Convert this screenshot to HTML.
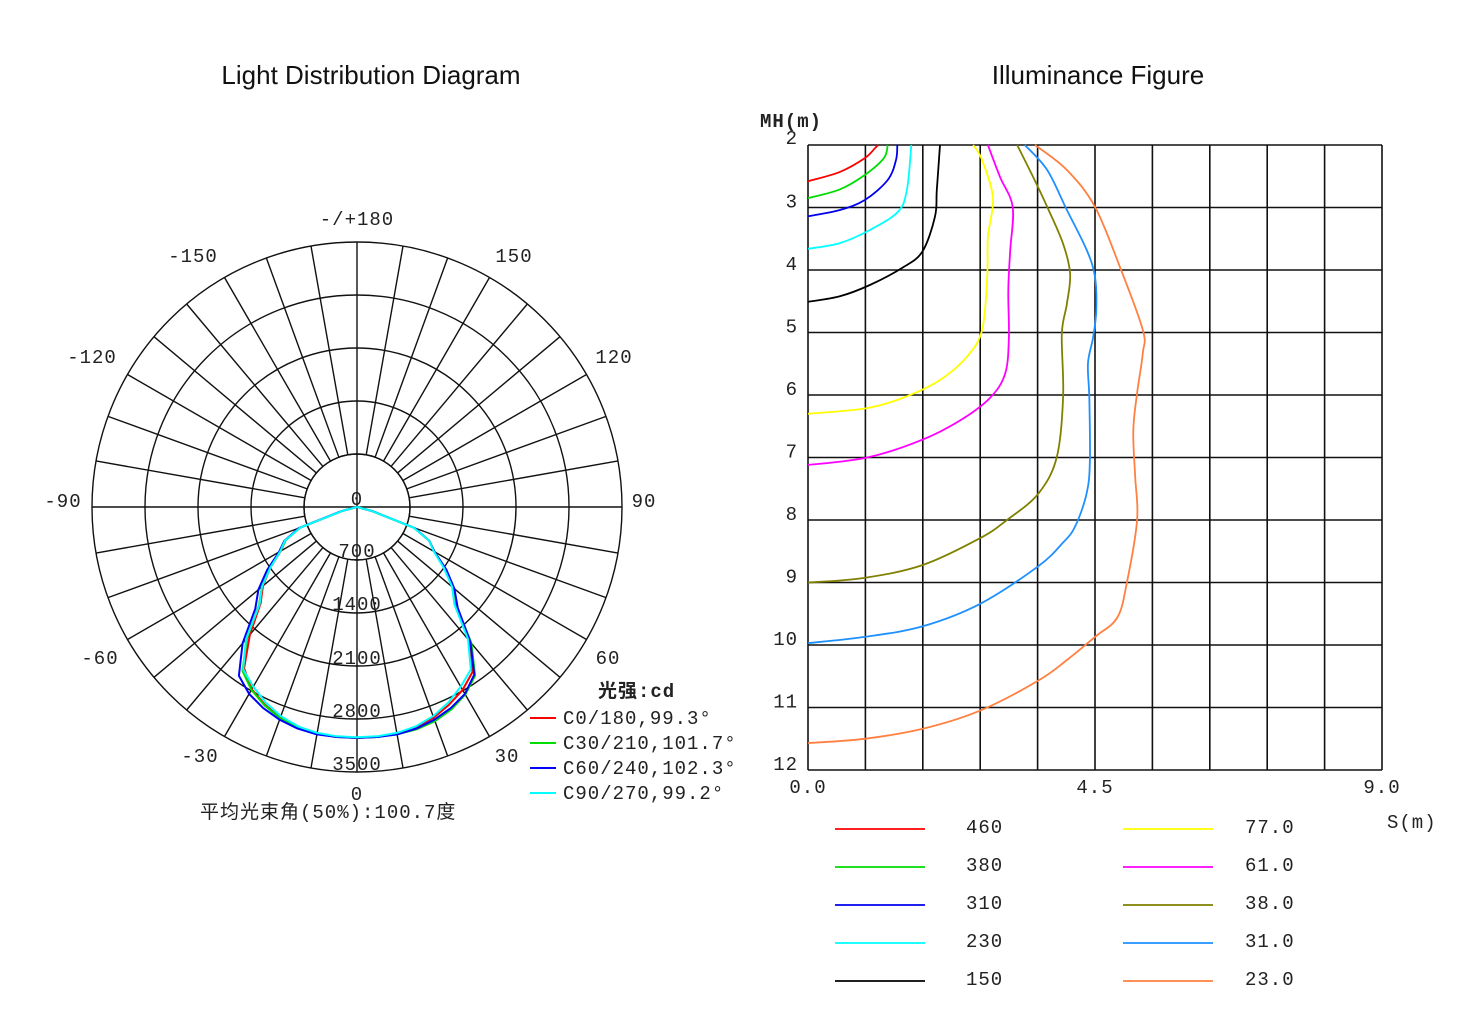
<!DOCTYPE html>
<html><head><meta charset="utf-8"><style>
body{margin:0;background:#fff;width:1475px;height:1011px;overflow:hidden}
svg{display:block}
.t{font-family:"Liberation Sans","Noto Sans CJK SC",sans-serif;font-size:26px;fill:#111}
.m{font-family:"Liberation Mono","Noto Sans CJK SC",monospace;font-size:19px;fill:#222;letter-spacing:1px}
</style></head><body>
<svg id="svg" width="1475" height="1011" viewBox="0 0 1475 1011">
<text class="t" x="371" y="84" text-anchor="middle">Light Distribution Diagram</text>
<text class="t" x="1098" y="84" text-anchor="middle">Illuminance Figure</text>
<g id="polar"></g>
<g id="iso"></g>
</svg>
<script>
// ---------- Polar data ----------
const polarAngles=[-90,-85,-80,-75,-70,-65,-60,-55,-50,-45,-40,-35,-30,-25,-20,-15,-10,-5,0,5,10,15,20,25,30,35,40,45,50,55,60,65,70,75,80,85,90];
const ringValues=[700,1400,2100,2800,3500];
const angleLabels=["-/+180","150","120","90","60","30","0","-30","-60","-90","-120","-150"];
const c0Vals=[0,0,0,200,800,1040,1160,1400,1620,1800,2200,2600,2780,2880,2960,3010,3040,3050,3050,3050,3040,3010,2960,2880,2790,2660,2300,1850,1660,1420,1180,1050,800,200,0,0,0];
const c30Vals=[0,0,0,200,800,1040,1170,1410,1640,1830,2260,2640,2790,2890,2970,3010,3040,3050,3050,3050,3050,3040,3010,2950,2860,2720,2350,1870,1670,1430,1180,1050,800,200,0,0,0];
const c60Vals=[0,0,0,220,820,1060,1190,1450,1700,1900,2350,2720,2850,2930,2990,3030,3050,3050,3050,3050,3050,3030,2990,2930,2850,2700,2330,1880,1680,1440,1180,1050,810,210,0,0,0];
const c90Vals=[0,0,0,200,800,1050,1170,1400,1640,1820,2280,2620,2740,2850,2940,3000,3030,3040,3040,3040,3030,3000,2940,2850,2740,2620,2280,1820,1640,1400,1170,1050,800,200,0,0,0];
const seriesNames=["C0/180,99.3°","C30/210,101.7°","C60/240,102.3°","C90/270,99.2°"];
const seriesColors=["#ff0000","#00dd00","#0000ff","#00ffff"];

// ---------- Illuminance data ----------
const isoLevels=["460","380","310","230","150","77.0","61.0","38.0","31.0","23.0"];
const isoColors=["#ff0000","#00dd00","#0000ee","#00ffff","#000000","#ffff00","#ff00ff","#808000","#1e90ff","#ff8040"];
const s460=[0,0.50,0.89,1.05,1.10]; const h460=[2.58,2.43,2.21,2.05,2.0];
const s380=[0,0.50,0.89,1.19,1.25]; const h380=[2.85,2.71,2.48,2.21,2.0];
const s310=[0,0.50,0.89,1.25,1.38,1.40]; const h310=[3.14,3.04,2.88,2.56,2.24,2.0];
const s230=[0,0.50,0.97,1.41,1.55,1.62]; const h230=[3.66,3.57,3.36,3.07,2.72,2.0];
const s150=[0,0.5,0.97,1.47,1.79,1.99,2.02,2.07]; const h150=[4.51,4.42,4.24,3.97,3.71,3.15,2.72,2.0];
const s77=[0,0.93,1.55,2.07,2.49,2.73,2.81,2.82,2.90,2.73,2.59]; const h77=[6.30,6.21,6.02,5.76,5.39,4.96,4.11,3.47,2.85,2.24,2.0];
const s61=[0,0.93,1.76,2.38,2.85,3.09,3.15,3.14,3.17,3.21,3.01,2.82]; const h61=[7.12,7.0,6.73,6.41,6.05,5.66,5.08,4.33,3.69,2.99,2.51,2.0];
const s38=[0,0.86,1.80,2.70,3.12,3.61,3.90,4.00,3.98,4.06,4.11,4.00,3.75,3.53,3.28]; const h38=[9.0,8.93,8.72,8.29,8.0,7.58,7.0,6.03,5.02,4.54,4.06,3.58,2.99,2.51,2.0];
const s31=[0,0.89,1.80,2.70,3.61,4.00,4.19,4.37,4.42,4.41,4.39,4.47,4.52,4.50,4.37,4.06,3.75,3.40]; const h31=[9.97,9.87,9.70,9.34,8.74,8.36,8.1,7.57,7.04,6.03,5.49,5.08,4.64,4.11,3.68,3.04,2.4,2.0];
const s23=[0,0.89,1.80,2.70,3.61,4.06,4.50,4.85,5.00,5.16,5.13,5.10,5.16,5.25,5.25,4.89,4.50,4.06,3.56]; const h23=[11.57,11.50,11.34,11.05,10.57,10.24,9.87,9.56,9.0,8.0,7.31,6.57,5.97,5.33,4.96,3.95,2.99,2.4,2.0];
const xTicks=["0.0","4.5","9.0"];
const yTicks=[2,3,4,5,6,7,8,9,10,11,12];

const NS="http://www.w3.org/2000/svg";
function mk(tag,attrs,parent){const e=document.createElementNS(NS,tag);for(const k in attrs)e.setAttribute(k,attrs[k]);parent.appendChild(e);return e;}

// ---------- Polar chart ----------
const P=document.getElementById('polar');
const cx=357,cy=507,R=265,vMax=3500,rIn=53;
const rs=v=>v/vMax*R;
const pt=(a,v)=>[cx+rs(v)*Math.sin(a*Math.PI/180),cy+rs(v)*Math.cos(a*Math.PI/180)];
for(let a=0;a<360;a+=10){
  const full=(a%90===0);
  const r0=full?0:rIn;
  const ln=mk('line',{x1:cx+r0*Math.sin(a*Math.PI/180),y1:cy+r0*Math.cos(a*Math.PI/180),x2:cx+R*Math.sin(a*Math.PI/180),y2:cy+R*Math.cos(a*Math.PI/180),stroke:'#111','stroke-width':1.4},P);
  
  
}
[rIn].concat(ringValues.map(rs)).forEach(r=>{
  const c=mk('circle',{cx:cx,cy:cy,r:r,fill:'none',stroke:'#111','stroke-width':1.4},P);
  
  
});
[c0Vals,c30Vals,c60Vals,c90Vals].forEach((vals,i)=>{
  const d=vals.map((v,j)=>{const p=pt(polarAngles[j],v);return (j?'L':'M')+p[0].toFixed(1)+' '+p[1].toFixed(1);}).join(' ');
  const pa=mk('path',{d:d,fill:'none',stroke:seriesColors[i],'stroke-width':2,'stroke-linejoin':'round'},P);
  
  
});
const rlab=[0].concat(ringValues);
rlab.forEach(v=>{
  const t=mk('text',{x:cx,y:0,'text-anchor':'middle',class:'m'},P);
  t.setAttribute('y', v===0?505:(cy+rs(v)*0.975-3+(v/700)*1.5).toFixed(0));
  t.textContent=v;
  
  
});
const angleLabelPos=[[357,225],[514,262],[614,363],[644,507],[608,664],[507,762],[357,800],[200,762],[100,664],[63,507],[92,363],[193,262]];
angleLabels.forEach((s,i)=>{
  const t=mk('text',{x:angleLabelPos[i][0],y:angleLabelPos[i][1],'text-anchor':'middle',class:'m'},P);
  t.textContent=s;
  
  
});
const lt=mk('text',{x:598,y:697,class:'m','font-weight':'bold'},P);
lt.textContent='光强:cd';


seriesNames.forEach((s,i)=>{
  const y=718+i*25;
  const l=mk('line',{x1:530,y1:y,x2:556,y2:y,stroke:seriesColors[i],'stroke-width':2},P);
  
  
  const t=mk('text',{x:563,y:y+6,class:'m','font-size':'16'},P);
  t.textContent=s;
  
  
});
const bt=mk('text',{x:200,y:818,class:'m'},P);
bt.textContent='平均光束角(50%):100.7度';



// ---------- Illuminance chart ----------
const I=document.getElementById('iso');
const X0=808,X1=1382,Y0=145,Y1=770,sMax=9,hMin=2,hMax=12;
const xs=s=>X0+s/sMax*(X1-X0);
const ys=h=>Y0+(h-hMin)/(hMax-hMin)*(Y1-Y0);
for(let k=0;k<=10;k++){
  const x=xs(k*0.9);
  const l=mk('line',{x1:x,y1:Y0,x2:x,y2:Y1,stroke:'#111','stroke-width':1.6},I);
  
  
}
yTicks.forEach(h=>{
  const l=mk('line',{x1:X0,y1:ys(h),x2:X1,y2:ys(h),stroke:'#111','stroke-width':1.6},I);
  
  
  const t=mk('text',{x:798,y:ys(h)+(h===2?-1:0),class:'m','font-size':'20','text-anchor':'end'},I);
  t.textContent=h;
  
  
});
xTicks.forEach(s=>{
  const t=mk('text',{x:xs(parseFloat(s)),y:793,'text-anchor':'middle',class:'m','font-size':'20'},I);
  t.textContent=s;
  
  
});
const yt=mk('text',{x:760,y:127,class:'m','font-size':'17','font-weight':'bold','font-family':'Liberation Serif, serif'},I);
yt.textContent='MH(m)';


const xt=mk('text',{x:1387,y:828,class:'m','font-size':'18'},I);
xt.textContent='S(m)';


const curves=[[s460,h460],[s380,h380],[s310,h310],[s230,h230],[s150,h150],[s77,h77],[s61,h61],[s38,h38],[s31,h31],[s23,h23]];
curves.forEach((c,i)=>{
  const pts=c[0].map((s,j)=>[xs(s),ys(c[1][j])]);
  let d='M'+pts[0][0].toFixed(1)+' '+pts[0][1].toFixed(1);
  for(let j=1;j<pts.length;j++){
    const p0=pts[j-2]||pts[j-1],p1=pts[j-1],p2=pts[j],p3=pts[j+1]||pts[j];
    const c1=[p1[0]+(p2[0]-p0[0])/6,p1[1]+(p2[1]-p0[1])/6],c2=[p2[0]-(p3[0]-p1[0])/6,p2[1]-(p3[1]-p1[1])/6];
    d+=' C'+c1.map(v=>v.toFixed(1)).join(' ')+' '+c2.map(v=>v.toFixed(1)).join(' ')+' '+p2.map(v=>v.toFixed(1)).join(' ');
  }
  const pa=mk('path',{d:d,fill:'none',stroke:isoColors[i],'stroke-width':1.8},I);
  
  
});
isoLevels.forEach((lv,i)=>{
  const col=Math.floor(i/5),row=i%5;
  const y=[829,867,905,943,981][row];
  const lx=col?1123:835, tx=col?1245:966;
  const l=mk('line',{x1:lx,y1:y,x2:lx+90,y2:y,stroke:isoColors[i],'stroke-width':1.8},I);
  
  
  const t=mk('text',{x:tx,y:y+4,class:'m','font-size':'20'},I);
  t.textContent=lv;
  
  
});
</script>
</body></html>
